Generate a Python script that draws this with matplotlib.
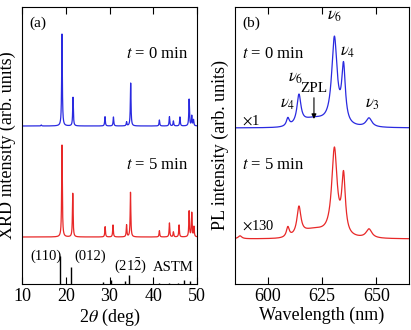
import numpy as np
import matplotlib
matplotlib.use("Agg")
import matplotlib.pyplot as plt

plt.rcParams['font.family'] = ['Liberation Serif', 'DejaVu Serif']
plt.rcParams['mathtext.fontset'] = 'stix'

# ---- XRD data (2theta deg, relative height in px-units) ----
xrd_pos_0 = [14.4, 19.14, 21.66, 28.97, 30.9, 33.9, 34.84, 41.4, 43.7, 44.6, 46.1, 48.2, 48.8, 49.2]
xrd_h_0   = [1.0, 92, 28.7, 9.3, 9.0, 4.0, 43, 6, 9.3, 5, 9, 26.7, 10, 6]
xrd_pos_5 = [19.14, 21.6, 29.0, 30.8, 33.9, 34.8, 41.4, 43.7, 44.6, 45.9, 48.2, 48.8, 49.3]
xrd_h_5   = [92, 43.7, 10.3, 12, 12, 44.7, 6.3, 14, 5, 12, 25.7, 24, 10]
astm_pos = [18.77, 21.13, 28.4, 30.3, 33.5, 34.46, 41.2, 43.5, 45.6, 47.1, 48.3]
astm_h   = [28, 17, 2, 4, 3, 9.3, 1.5, 1.5, 1.5, 4, 3]
xrd_offsets = [158, 47]

# ---- PL data (nm, height) ----
pl_pos = [587.3, 609.3, 614.4, 621.0, 630.7, 634.9, 646.6]
pl_h_0 = [0.0, 8, 29, 8, 87, 56, 9]
pl_w   = [1.0, 0.8, 1.1, 5.5, 1.5, 1.0, 1.6]
pl_h_5 = [3.0, 10, 28, 8, 87, 58, 9]
pl_offsets = [156, 45]

blue = '#2a2ae0'
red = '#e82828'

def xrd_curve(x, pos, h, w=0.09):
    y = np.zeros_like(x)
    for p, a in zip(pos, h):
        y += a / (1 + ((x - p) / w) ** 2)
    return y

def pl_curve(x, pos, h, w):
    y = np.zeros_like(x)
    for p, a, ww in zip(pos, h, w):
        if ww > 3:
            y += a * np.exp(-0.5 * ((x - p) / ww) ** 2)
        else:
            y += a / (1 + ((x - p) / ww) ** 2)
    return y

fig = plt.figure(figsize=(4.11, 3.30), dpi=100)
ax1 = fig.add_axes([22/411, 46/330, 175/411, 277/330])
ax2 = fig.add_axes([235/411, 46/330, 174/411, 277/330])

x = np.linspace(10, 50, 4000)
ax1.plot(x, xrd_offsets[0] + xrd_curve(x, xrd_pos_0, xrd_h_0), color=blue, lw=0.9)
ax1.plot(x, xrd_offsets[1] + xrd_curve(x, xrd_pos_5, xrd_h_5), color=red, lw=0.9)
ax1.vlines(astm_pos, 0, astm_h, color='black', lw=1.0)
ax1.set_xlim(10, 50)
ax1.set_ylim(0, 277)
ax1.set_xticks([10, 20, 30, 40, 50])
ax1.set_yticks([])
ax1.tick_params(axis='x', direction='in', top=True, length=5, labelsize=13, pad=3)
ax1.set_xlabel(r'2$\theta$ (deg)', fontsize=13, labelpad=1)
ax1.set_ylabel('XRD intensity (arb. units)', fontsize=13, labelpad=4)
ax1.text(0.04, 0.93, '(a)', transform=ax1.transAxes, fontsize=11)
ax1.text(0.95, 0.815, r'$t$ = 0 min', transform=ax1.transAxes, fontsize=12, ha='right')
ax1.text(0.95, 0.415, r'$t$ = 5 min', transform=ax1.transAxes, fontsize=12, ha='right')
ax1.text(12.0, 24, '(110)', fontsize=10.5)
ax1.text(21.9, 24, '(012)', fontsize=10.5)
ax1.text(31.0, 14, r'(21$\bar{2}$)', fontsize=10.5)
ax1.text(39.9, 13, 'ASTM', fontsize=10.5)

xw = np.linspace(585, 665, 3000)
ax2.plot(xw, pl_offsets[0] + pl_curve(xw, pl_pos, pl_h_0, pl_w), color=blue, lw=0.9)
ax2.plot(xw, pl_offsets[1] + pl_curve(xw, pl_pos, pl_h_5, pl_w), color=red, lw=0.9)
ax2.set_xlim(585, 665)
ax2.set_ylim(0, 277)
ax2.set_xticks([600, 625, 650])
ax2.set_yticks([])
ax2.tick_params(axis='x', direction='in', top=True, length=5, labelsize=13, pad=3)
ax2.set_xlabel('Wavelength (nm)', fontsize=13, labelpad=1)
ax2.set_ylabel('PL intensity (arb. units)', fontsize=13, labelpad=4)
ax2.text(0.04, 0.93, '(b)', transform=ax2.transAxes, fontsize=11)
ax2.text(0.04, 0.815, r'$t$ = 0 min', transform=ax2.transAxes, fontsize=12)
ax2.text(0.04, 0.415, r'$t$ = 5 min', transform=ax2.transAxes, fontsize=12)
ax2.text(0.04, 0.575, r'$\times$1', transform=ax2.transAxes, fontsize=10.5)
ax2.text(0.04, 0.195, r'$\times$130', transform=ax2.transAxes, fontsize=10.5)
ax2.text(630.7, 260, r'$\nu_6$', fontsize=12, ha='center', va='bottom')
ax2.text(636.6, 224, r'$\nu_4$', fontsize=12, ha='center', va='bottom')
ax2.text(612.8, 198, r'$\nu_6$', fontsize=12, ha='center', va='bottom')
ax2.text(609.2, 172, r'$\nu_4$', fontsize=12, ha='center', va='bottom')
ax2.text(648.0, 172, r'$\nu_3$', fontsize=12, ha='center', va='bottom')
ax2.annotate('ZPL', xy=(621.3, 165), xytext=(621.3, 189), fontsize=11, ha='center', va='bottom',
             arrowprops=dict(arrowstyle='-|>', color='black', lw=0.8, mutation_scale=7, shrinkA=0, shrinkB=0))

fig.savefig('out.png', dpi=100)
